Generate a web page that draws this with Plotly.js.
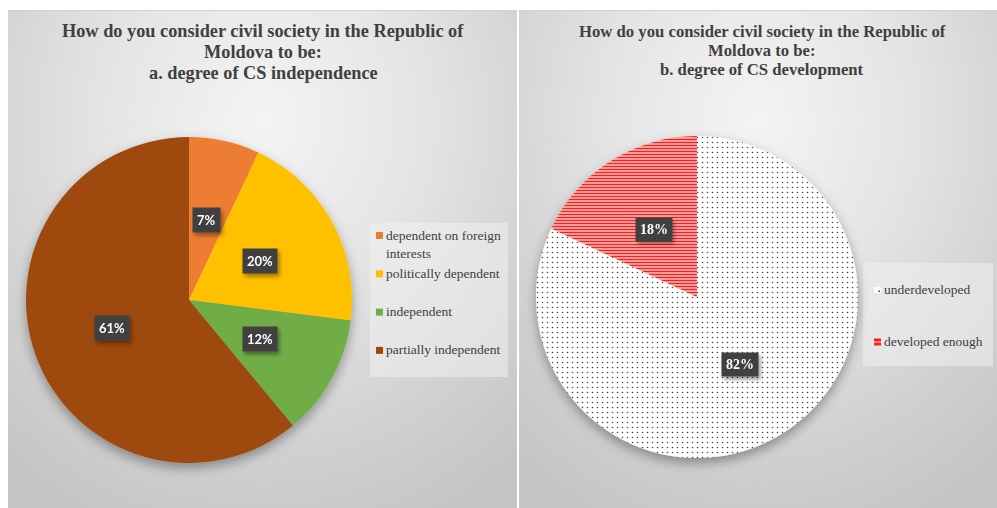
<!DOCTYPE html>
<html>
<head>
<meta charset="utf-8">
<script src="https://cdn.plot.ly/plotly-3.0.1.min.js"></script>
<style>
  html, body { margin: 0; padding: 0; background: #ffffff; width: 997px; height: 508px; overflow: hidden; }
  .panel {
    position: absolute; top: 10px; height: 498px; box-sizing: border-box;
    border-top: 1px solid #d2d2d2;
    background: radial-gradient(ellipse 80% 90% at 50% 22%, #f4f4f4 0%, #e4e4e4 40%, #d0d0d0 75%, #c4c4c4 100%);
  }
  #panelA { left: 8px; width: 509px; }
  #panelB { left: 519px; width: 478px; }
  #chart { position: absolute; left: 0; top: 0; width: 997px; height: 508px; }
</style>
</head>
<body>
<div class="panel" id="panelA"></div>
<div class="panel" id="panelB"></div>
<svg width="0" height="0" style="position:absolute">
  <defs>
    <filter id="pieShadow" x="-20%" y="-20%" width="140%" height="150%">
      <feGaussianBlur in="SourceAlpha" stdDeviation="6" result="blur"/>
      <feOffset in="blur" dx="0" dy="5" result="off"/>
      <feComponentTransfer in="off" result="soft">
        <feFuncA type="linear" slope="0.35"/>
      </feComponentTransfer>
      <feMerge>
        <feMergeNode in="soft"/>
        <feMergeNode in="SourceGraphic"/>
      </feMerge>
    </filter>
    <filter id="boxShadow" x="-30%" y="-30%" width="170%" height="190%">
      <feGaussianBlur in="SourceAlpha" stdDeviation="2" result="blur"/>
      <feOffset in="blur" dx="2" dy="3" result="off"/>
      <feComponentTransfer in="off" result="soft">
        <feFuncA type="linear" slope="0.4"/>
      </feComponentTransfer>
      <feMerge>
        <feMergeNode in="soft"/>
        <feMergeNode in="SourceGraphic"/>
      </feMerge>
    </filter>
  </defs>
</svg>
<div id="chart"></div>
<script>
// ---- data ----
const titleA = ['How do you consider civil society in the Republic of', 'Moldova to be:', 'a. degree of CS independence'];
const titleB = ['How do you consider civil society in the Republic of', 'Moldova to be:', 'b. degree of CS development'];

const labelsA = ['dependent on foreign<br>interests', 'politically dependent', 'independent', 'partially independent'];
const valuesA = [7, 20, 12, 61];
const colorsA = ['#ED7D31', '#FFC000', '#70AD47', '#9E480E'];

const labelsB = ['underdeveloped', 'developed enough'];
const valuesB = [82, 18];

// ---- geometry (pixels of the 997x508 page) ----
const W = 997, H = 508;
const pieA = { cx: 189, cy: 300, r: 163 };
const pieB = { cx: 697, cy: 297, r: 161 };
const px = x => x / W;
const py = y => 1 - y / H;
const SERIF = 'Liberation Serif';

function domainOf(p) {
  return { x: [px(p.cx - p.r), px(p.cx + p.r)], y: [py(p.cy + p.r), py(p.cy - p.r)] };
}

const traces = [
  {
    type: 'pie', values: valuesA, labels: labelsA, sort: false, direction: 'clockwise', rotation: 0,
    domain: domainOf(pieA), textinfo: 'none', showlegend: false,
    marker: { colors: colorsA, line: { width: 0 } },
    hovertemplate: '%{label}: %{percent}<extra></extra>'
  },
  {
    type: 'pie', values: valuesB, labels: labelsB, sort: false, direction: 'clockwise', rotation: 0,
    domain: domainOf(pieB), textinfo: 'none', showlegend: false,
    marker: {
      colors: ['#ffffff', '#ffffff'],
      line: { width: 0 },
      pattern: {
        shape: ['.', '-'],
        fgcolor: ['#4a4a4a', '#ff1a1a'],
        bgcolor: ['#ffffff', '#ffffff'],
        size: [5, 3],
        solidity: [0.08, 0.62]
      }
    },
    hovertemplate: '%{label}: %{percent}<extra></extra>'
  }
];

const annotations = [];
const shapes = [];
const shadowed = [];

// chart titles
function addTitle(lines, cx, ys, size) {
  lines.forEach((t, i) => annotations.push({
    xref: 'paper', yref: 'paper', x: px(cx), y: py(ys[i]), xanchor: 'center', yanchor: 'middle',
    showarrow: false, text: '<b>' + t + '</b>',
    font: { family: SERIF, size: size, color: '#404040' }
  }));
}
addTitle(titleA, 263, [31, 52, 73], 18.3);
addTitle(titleB, 762, [31, 50, 70], 16.7);

// percentage labels placed at half radius in the middle of each slice
function addSliceLabels(p, vals, fontFamily, size) {
  const tot = vals.reduce((a, b) => a + b, 0);
  let cum = 0;
  vals.forEach(v => {
    const mid = (cum + v / 2) / tot * 2 * Math.PI;
    cum += v;
    shadowed.push(annotations.length);
    annotations.push({
      xref: 'paper', yref: 'paper', xanchor: 'center', yanchor: 'middle', showarrow: false,
      x: px(p.cx + 0.5 * p.r * Math.sin(mid)),
      y: py(p.cy - 0.5 * p.r * Math.cos(mid)),
      text: '<b>' + Math.round(v / tot * 100) + '%</b>', borderpad: 4,
      bgcolor: '#404040', font: { family: fontFamily, size: size, color: '#ffffff' }
    });
  });
}
addSliceLabels(pieA, valuesA, 'Lato', 13);
addSliceLabels(pieB, valuesB, SERIF, 14);

// legend A
shapes.push({ type: 'rect', xref: 'paper', yref: 'paper', x0: px(370), x1: px(508), y0: py(223), y1: py(377),
  fillcolor: 'rgba(240,240,240,0.55)', line: { width: 0 }, layer: 'below' });
labelsA.forEach((lab, i) => {
  const yc = 235.5 + 38.3 * i;
  shapes.push({ type: 'rect', xref: 'paper', yref: 'paper', x0: px(376), x1: px(383), y0: py(yc - 3.5), y1: py(yc + 3.5),
    fillcolor: colorsA[i], line: { width: 0 } });
  annotations.push({ xref: 'paper', yref: 'paper', x: px(384), y: py(yc - 10), xanchor: 'left', yanchor: 'top',
    align: 'left', showarrow: false, text: lab,
    font: { family: SERIF, size: 13.5, color: '#404040' } });
});

// legend B
shapes.push({ type: 'rect', xref: 'paper', yref: 'paper', x0: px(863), x1: px(993), y0: py(263), y1: py(366),
  fillcolor: 'rgba(240,240,240,0.55)', line: { width: 0 }, layer: 'below' });
const rowsB = [290, 342];
labelsB.forEach((lab, i) => {
  const yc = rowsB[i];
  annotations.push({ xref: 'paper', yref: 'paper', x: px(882), y: py(yc - 10), xanchor: 'left', yanchor: 'top',
    align: 'left', showarrow: false, text: lab,
    font: { family: SERIF, size: 13.5, color: '#404040' } });
});
// legend swatches: dotted and striped
shapes.push({ type: 'rect', xref: 'paper', yref: 'paper', x0: px(874), x1: px(881), y0: py(293), y1: py(287),
  fillcolor: '#ffffff', line: { width: 0 } });
shapes.push({ type: 'rect', xref: 'paper', yref: 'paper', x0: px(878.5), x1: px(880), y0: py(292), y1: py(290.5),
  fillcolor: '#333333', line: { width: 0 } });
shapes.push({ type: 'rect', xref: 'paper', yref: 'paper', x0: px(874), x1: px(881), y0: py(345.5), y1: py(338.5),
  fillcolor: '#ff1a1a', line: { width: 0 } });
shapes.push({ type: 'rect', xref: 'paper', yref: 'paper', x0: px(874), x1: px(881), y0: py(342.6), y1: py(341.4),
  fillcolor: '#ffd0d0', line: { width: 0 } });

const layout = {
  width: W, height: H,
  margin: { l: 0, r: 0, t: 0, b: 0, pad: 0 },
  paper_bgcolor: 'rgba(0,0,0,0)', plot_bgcolor: 'rgba(0,0,0,0)',
  showlegend: false,
  annotations: annotations,
  shapes: shapes
};

Plotly.newPlot('chart', traces, layout, { displayModeBar: false, staticPlot: true }).then(() => {
  document.querySelectorAll('.pielayer .trace').forEach(g => g.setAttribute('filter', 'url(#pieShadow)'));
  shadowed.forEach(i => {
    const g = document.querySelector('.annotation[data-index="' + i + '"]');
    if (g) g.setAttribute('filter', 'url(#boxShadow)');
  });
});
</script>
</body>
</html>
